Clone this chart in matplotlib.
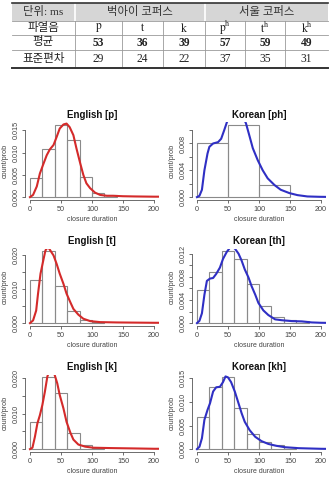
import numpy as np
import matplotlib.pyplot as plt

plt.rcParams['mathtext.fontset'] = 'stix'
plt.rcParams['font.family'] = ['Liberation Sans', 'DejaVu Sans']

# table
col_labels = ['파열음', r'$\mathrm{p}$', r'$\mathrm{t}$', r'$\mathrm{k}$',
              r'$\mathrm{p^h}$', r'$\mathrm{t^h}$', r'$\mathrm{k^h}$']
row_mean = ['평균', '53', '36', '39', '57', '59', '49']
row_sd = ['표준편차', '29', '24', '22', '37', '35', '31']
group_labels = ['단위: ms', '벅아이 코퍼스', '서울 코퍼스']

# histograms (density) and density curves
eng_p_edges = [0, 20, 40, 60, 80, 100, 120, 140]
eng_p_hist = [0.0042, 0.0107, 0.0161, 0.0129, 0.0045, 0.0010, 0.0004]
eng_p_x = [0, 5, 11, 16, 21, 27, 32, 38, 43, 48, 54, 59, 64, 70, 75, 81, 86, 91,
           97, 105, 113, 124, 134, 150, 170, 200, 212]
eng_p_y = [0.0, 0.0005, 0.0024, 0.0053, 0.0072, 0.0094, 0.0107, 0.0117, 0.0135,
           0.0154, 0.0163, 0.0165, 0.0157, 0.0139, 0.0109, 0.0076, 0.0050, 0.0031,
           0.0020, 0.0010, 0.0005, 0.0003, 0.0003, 0.0002, 0.00015, 0.0001, 0.0001]

kor_p_edges = [0, 50, 100, 150]
kor_p_hist = [0.0081, 0.0107, 0.0018]
kor_p_x = [0, 4, 8, 12, 17, 20, 26, 34, 39, 44, 48, 55, 62, 70, 79, 85, 90, 98,
           106, 114, 125, 135, 149, 162, 178, 197, 212]
kor_p_y = [0.0, 0.0002, 0.0011, 0.0040, 0.0065, 0.0075, 0.0080, 0.0082, 0.0087,
           0.0100, 0.0111, 0.0128, 0.0135, 0.0128, 0.0110, 0.0090, 0.0073, 0.0055,
           0.0040, 0.0028, 0.0018, 0.0011, 0.0006, 0.0003, 0.0001, 0.00005, 0.00003]

eng_t_edges = [0, 20, 40, 60, 80, 100, 120]
eng_t_hist = [0.0126, 0.0212, 0.0111, 0.0037, 0.0010, 0.0004]
eng_t_x = [0, 5, 10, 13, 17, 22, 25, 29, 32, 38, 43, 48, 54, 59, 65, 70, 78, 86,
           97, 113, 140, 200, 212]
eng_t_y = [0.0, 0.0008, 0.0037, 0.0087, 0.0146, 0.0190, 0.0215, 0.0225, 0.0217,
           0.0200, 0.0175, 0.0146, 0.0116, 0.0087, 0.0062, 0.0042, 0.0025, 0.0013,
           0.0006, 0.0003, 0.0002, 0.0001, 0.0001]

kor_t_edges = [0, 20, 40, 60, 80, 100, 120, 140, 160, 180]
kor_t_hist = [0.0058, 0.0089, 0.0124, 0.0110, 0.0068, 0.0030, 0.0011, 0.0005, 0.0003]
kor_t_x = [0, 4, 8, 12, 16, 21, 26, 31, 37, 42, 48, 53, 57, 61, 67, 72, 77, 83,
           88, 94, 99, 107, 115, 126, 137, 153, 169, 185, 200, 212]
kor_t_y = [0.0, 0.0004, 0.0017, 0.0049, 0.0073, 0.0077, 0.0078, 0.0085, 0.0096,
           0.0111, 0.0123, 0.0130, 0.0131, 0.0129, 0.0120, 0.0108, 0.0093, 0.0079,
           0.0064, 0.0049, 0.0035, 0.0022, 0.0014, 0.00065, 0.0005, 0.00035,
           0.0003, 0.00012, 0.00006, 0.00004]

eng_k_edges = [0, 20, 40, 60, 80, 100, 120]
eng_k_hist = [0.0077, 0.0203, 0.0160, 0.0047, 0.0011, 0.0004]
eng_k_x = [0, 4, 8, 12, 16, 20, 24, 28, 34, 40, 44, 48, 54, 59, 65, 70, 78, 89,
           102, 129, 167, 200, 212]
eng_k_y = [0.0, 0.0004, 0.0035, 0.0073, 0.0096, 0.0125, 0.0162, 0.0205, 0.0235,
           0.0209, 0.0186, 0.0153, 0.0115, 0.0077, 0.0047, 0.0027, 0.0013, 0.0007,
           0.0004, 0.0003, 0.0002, 0.0001, 0.0001]

kor_k_edges = [0, 20, 40, 60, 80, 100, 120, 140, 160]
kor_k_hist = [0.0067, 0.0132, 0.0152, 0.0088, 0.0033, 0.0016, 0.0008, 0.0004]
kor_k_x = [0, 4, 8, 12, 17, 21, 26, 31, 37, 42, 46, 50, 55, 61, 67, 72, 77, 85,
           94, 104, 115, 128, 142, 164, 200, 212]
kor_k_y = [0.0, 0.0005, 0.0023, 0.0062, 0.0083, 0.0097, 0.0122, 0.0131, 0.0132,
           0.0142, 0.0154, 0.0152, 0.0142, 0.0122, 0.0097, 0.0076, 0.0058, 0.0040,
           0.0026, 0.0017, 0.0011, 0.0007, 0.0004, 0.0002, 0.00007, 0.00005]

panels = [
    ('English [p]', eng_p_edges, eng_p_hist, eng_p_x, eng_p_y, '#d42a2a', 0.005, 0.005),
    ('Korean [ph]', kor_p_edges, kor_p_hist, kor_p_x, kor_p_y, '#2f2fc4', 0.002, 0.004),
    ('English [t]', eng_t_edges, eng_t_hist, eng_t_x, eng_t_y, '#d42a2a', 0.005, 0.010),
    ('Korean [th]', kor_t_edges, kor_t_hist, kor_t_x, kor_t_y, '#2f2fc4', 0.002, 0.004),
    ('English [k]', eng_k_edges, eng_k_hist, eng_k_x, eng_k_y, '#d42a2a', 0.005, 0.010),
    ('Korean [kh]', kor_k_edges, kor_k_hist, kor_k_x, kor_k_y, '#2f2fc4', 0.005, 0.005),
]

W, H = 332, 480
fig = plt.figure(figsize=(W / 100, H / 100), dpi=100)

# ---- table ----
tab = fig.add_axes([0, (H - 72) / H, 1, 72 / H])
tab.set_xlim(0, W)
tab.set_ylim(72, 0)
tab.axis('off')

x_edges = [12, 75, 122, 163, 205, 245, 285, 328]
y_edges = [3, 21, 35, 50, 68]
tfont = ['Liberation Serif', 'Noto Sans CJK KR']

tab.fill_between([x_edges[0], x_edges[-1]], y_edges[0], y_edges[1], color='#d6d6d6', lw=0)
for xv in [75, 205]:
    tab.plot([xv, xv], [y_edges[0], y_edges[1]], color='white', lw=1.2)
for xv in x_edges[1:-1]:
    tab.plot([xv, xv], [y_edges[1], y_edges[-1]], color='#9a9a9a', lw=0.6)
for yv in y_edges[1:-1]:
    tab.plot([x_edges[0], x_edges[-1]], [yv, yv], color='#9a9a9a', lw=0.6)
tab.plot([x_edges[0], x_edges[-1]], [y_edges[0]] * 2, color='#333333', lw=1.2)
tab.plot([x_edges[0], x_edges[-1]], [y_edges[-1]] * 2, color='#333333', lw=1.4)

group_centres = [(x_edges[0] + x_edges[1]) / 2, (x_edges[1] + x_edges[4]) / 2,
                 (x_edges[4] + x_edges[7]) / 2]
for cx, lab in zip(group_centres, group_labels):
    tab.text(cx, (y_edges[0] + y_edges[1]) / 2, lab, ha='center', va='center',
             fontsize=8.2, family=tfont, color='#333333')

rows = [(col_labels, 'normal'), (row_mean, 'bold'), (row_sd, 'normal')]
for r, (cells, weight) in enumerate(rows):
    cy = (y_edges[r + 1] + y_edges[r + 2]) / 2
    for c, lab in enumerate(cells):
        cx = (x_edges[c] + x_edges[c + 1]) / 2
        w = 'normal' if c == 0 else weight
        tab.text(cx, cy, lab, ha='center', va='center', fontsize=8.3,
                 family=tfont, fontweight=w, color='#222222')

# ---- histogram panels ----
lefts = [25 / W, 192 / W]
bottoms = [(H - 200) / H, (H - 326) / H, (H - 452) / H]
aw, ah = 134 / W, 77.5 / H

for i, (title, edges, hist, cx, cy, color, tstep, lstep) in enumerate(panels):
    ax = fig.add_axes([lefts[i % 2], bottoms[i // 2], aw, ah])
    ymax = max(hist)
    ax.bar(edges[:-1], hist, width=np.diff(edges), align='edge', fill=False,
           edgecolor='#8a8a8a', lw=0.8)
    ax.plot(cx, cy, color=color, lw=1.5)
    ax.set_xlim(-8, 208)
    ax.set_ylim(-0.04 * ymax, 1.04 * ymax)

    ax.set_xticks([0, 50, 100, 150, 200])
    yt = np.arange(0, ymax + 1e-9, tstep)
    ax.set_yticks(yt)
    ax.set_yticklabels(['%.3f' % v if abs(v / lstep - round(v / lstep)) < 1e-6 else ''
                        for v in yt])
    for s in ['top', 'right']:
        ax.spines[s].set_visible(False)
    ax.spines['bottom'].set_bounds(0, 200)
    ax.spines['left'].set_bounds(0, yt[-1])
    for s in ['bottom', 'left']:
        ax.spines[s].set_color('#555555')
        ax.spines[s].set_linewidth(0.6)
    ax.tick_params(length=2.5, width=0.6, color='#555555', labelsize=5.2,
                   labelcolor='#444444', pad=1.5)
    for lab in ax.get_yticklabels():
        lab.set_rotation(90)
        lab.set_va('center')
    ax.set_title(title, fontsize=7, fontweight='bold', pad=3, color='#111111')
    ax.set_xlabel('closure duration', fontsize=5, color='#444444', labelpad=2.5)
    ax.set_ylabel('count/prob', fontsize=5.2, color='#444444', labelpad=3)

fig.savefig('out.png', dpi=100)
